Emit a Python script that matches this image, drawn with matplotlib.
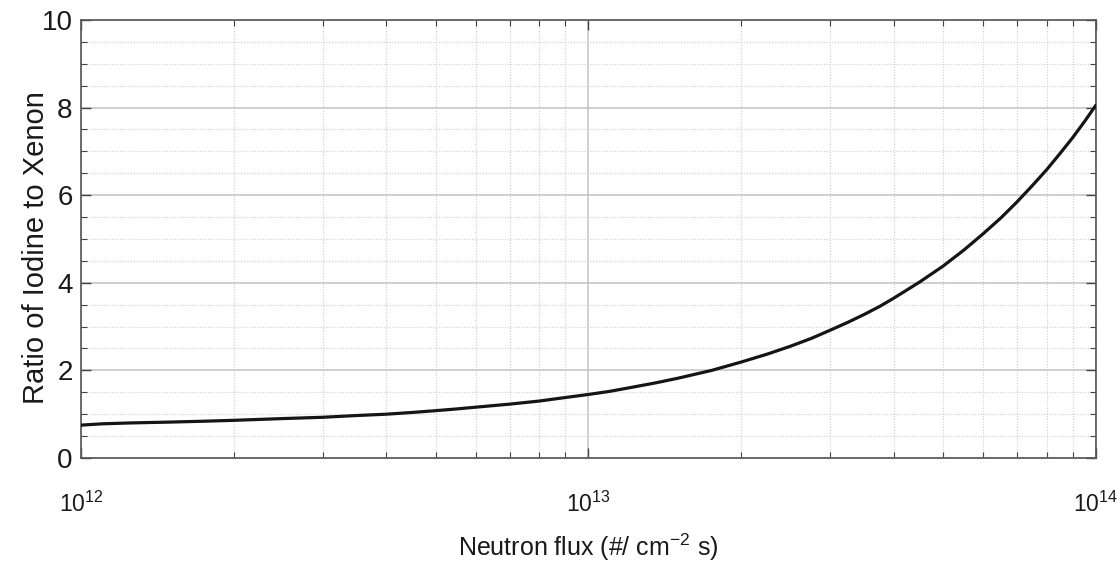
import matplotlib
matplotlib.use("Agg")
import matplotlib.pyplot as plt
from matplotlib.ticker import LogLocator, FixedLocator, NullFormatter, MultipleLocator

# Data
flux = [1e12, 1.1e12, 1.25e12, 1.5e12, 1.75e12, 2e12, 2.5e12, 3e12, 3.5e12, 4e12,
        4.5e12, 5e12, 5.5e12, 6e12, 7e12, 8e12, 9e12, 1e13, 1.1e13, 1.2e13,
        1.35e13, 1.5e13, 1.75e13, 2e13, 2.25e13, 2.5e13, 2.75e13, 3e13, 3.25e13,
        3.5e13, 3.75e13, 4e13, 4.5e13, 5e13, 5.5e13, 6e13, 6.5e13, 7e13, 7.5e13,
        8e13, 8.5e13, 9e13, 9.5e13, 1e14]
ratio = [0.75, 0.78, 0.80, 0.82, 0.84, 0.86, 0.90, 0.93, 0.97, 1.00,
         1.04, 1.08, 1.12, 1.16, 1.23, 1.30, 1.38, 1.45, 1.52, 1.60,
         1.71, 1.82, 2.00, 2.19, 2.37, 2.55, 2.73, 2.92, 3.10,
         3.28, 3.46, 3.65, 4.02, 4.38, 4.75, 5.12, 5.48, 5.85, 6.22,
         6.58, 6.95, 7.31, 7.68, 8.05]
yticks = [0, 2, 4, 6, 8, 10]
xlabel = "Neutron flux (#/ cm$^{-2}$ s)"
ylabel = "Ratio of Iodine to Xenon"

font = "Liberation Sans"
plt.rcParams["font.family"] = [font, "DejaVu Sans"]
plt.rcParams["mathtext.fontset"] = "custom"
plt.rcParams["mathtext.rm"] = font
plt.rcParams["mathtext.it"] = font
plt.rcParams["mathtext.default"] = "rm"

fig = plt.figure(figsize=(11.17, 5.70), dpi=100)
ax = fig.add_axes([0.0725, 0.1965, 0.9085, 0.7685])

ax.plot(flux, ratio, color="#151515", lw=2.3, solid_capstyle="round",
        solid_joinstyle="round", zorder=3)
ax.set_xscale("log")
ax.set_xlim(1e12, 1e14)
ax.set_ylim(0, 10)

ax.yaxis.set_major_locator(FixedLocator(yticks))
ax.yaxis.set_minor_locator(MultipleLocator(0.5))
ax.xaxis.set_major_locator(LogLocator(base=10, numticks=10))
ax.xaxis.set_minor_locator(LogLocator(base=10, subs=range(2, 10), numticks=20))
ax.xaxis.set_minor_formatter(NullFormatter())

ax.grid(True, which="major", color="#c2c2c2", lw=1.1, ls="-")
ax.grid(True, which="minor", color="#d4d4d4", lw=0.9, ls=(0, (1, 1.2)))
ax.set_axisbelow(True)

ax.tick_params(which="both", direction="in", top=True, right=True, color="#444444")
ax.tick_params(which="major", length=7, width=1.0)
ax.tick_params(which="minor", length=4, width=0.8)
ax.tick_params(axis="x", which="major", pad=24)
ax.tick_params(axis="y", which="major", pad=6)

for lab in ax.get_yticklabels():
    lab.set_fontsize(20)
    lab.set_color("#1a1a1a")
for lab in ax.get_xticklabels():
    lab.set_fontsize(16.5)
    lab.set_color("#1a1a1a")

for sp in ax.spines.values():
    sp.set_color("#555555")
    sp.set_linewidth(1.2)

ax.set_xlabel(xlabel, fontsize=18, color="#1a1a1a")
ax.xaxis.set_label_coords(0.5, -0.168)
ax.set_ylabel(ylabel, fontsize=21, color="#1a1a1a")
ax.yaxis.set_label_coords(-0.031, 0.48)

fig.savefig("out.png", dpi=100, facecolor="white")
